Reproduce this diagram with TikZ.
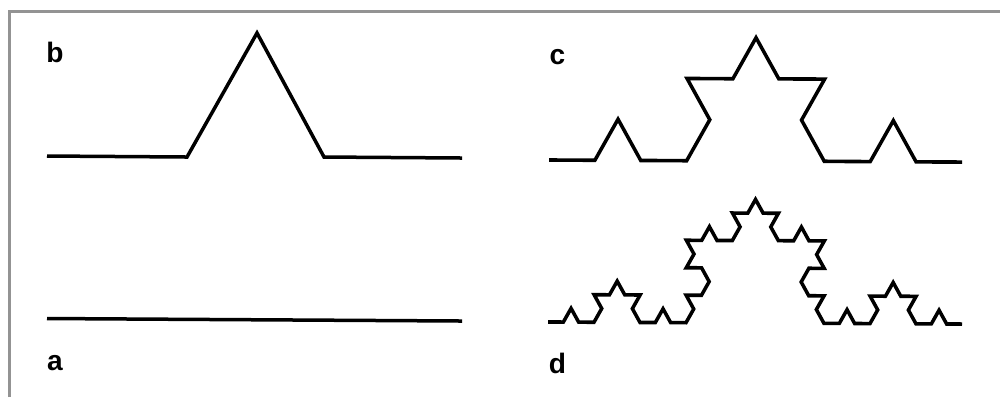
\documentclass[tikz,border=0pt]{standalone}
\usepackage{fontspec}
\setmainfont{Liberation Sans}
\usetikzlibrary{decorations.fractals}
\tikzset{
  curve/.style={line width=0.035cm, line join=miter, black},
  lbl/.style={font=\bfseries\fontsize{8pt}{9pt}\selectfont, inner sep=0pt},
  frame/.style={draw=gray!85, line width=0.022cm},
  decoration=Koch snowflake
}
\begin{document}
\begin{tikzpicture}
\useasboundingbox (0,0) rectangle (10,3.97);
\fill[white] (0,0) rectangle (10,3.97);
\coordinate (fb) at (0.095,0);
\coordinate (fc) at (0.095,3.855);
\coordinate (fr) at (10,3.855);
\draw[frame] (fb) -- (fc) -- (fr);
% a
\coordinate (a1) at (0.47,0.785);
\coordinate (a2) at (4.62,0.76);
\draw[curve] (a1) -- (a2);
% b
\coordinate (b1) at (0.47,2.41);
\coordinate (b2) at (1.87,2.40);
\coordinate (b3) at (2.57,3.64);
\coordinate (b4) at (3.24,2.40);
\coordinate (b5) at (4.62,2.39);
\draw[curve] (b1) -- (b2) -- (b3) -- (b4) -- (b5);
% c
\coordinate (c1) at (5.49,2.37);
\coordinate (c2) at (9.62,2.35);
\begin{scope}[transform canvas={yshift=-0.083cm, yscale=1.035}]
\draw[curve] decorate{ decorate{ (c1) -- (c2) } };
\end{scope}
% d
\coordinate (d1) at (5.48,0.75);
\coordinate (d2) at (9.62,0.73);
\begin{scope}[transform canvas={yshift=-0.026cm, yscale=1.035}]
\draw[curve] decorate{ decorate{ decorate{ (d1) -- (d2) } } };
\end{scope}
% labels
\node[lbl] (lb) at (0.55,3.45) {b};
\node[lbl] (la) at (0.55,0.335) {a};
\node[lbl] (lc) at (5.575,3.40) {c};
\node[lbl] (ld) at (5.575,0.335) {d};
\end{tikzpicture}
\end{document}
